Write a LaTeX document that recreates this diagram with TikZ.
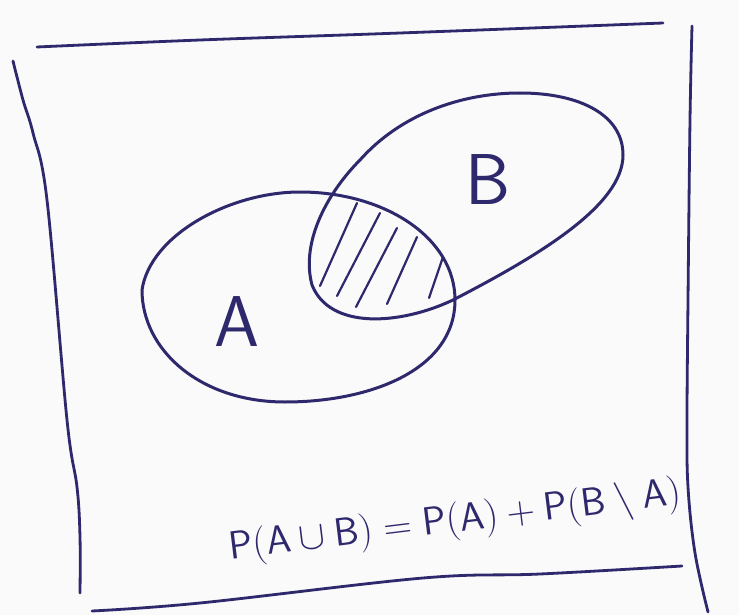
\documentclass[tikz,border=0pt]{standalone}
\usepackage{graphicx}
\usepackage{tikz}
\usetikzlibrary{positioning}
\definecolor{ink}{RGB}{46,40,108}
\definecolor{paper}{RGB}{250,250,250}
\tikzset{
    vennframe/.style={draw=ink, line width=1.4pt, line cap=round},
    vennset/.style={draw=ink, line width=1.5pt},
    vennhatch/.style={draw=ink, line width=1.1pt, line cap=round},
    vennlabel/.style={text=ink, font=\sffamily\fontsize{36}{38}\selectfont, inner sep=0pt},
    vennformula/.style={text=ink, font=\fontsize{20.74}{24}\selectfont, inner sep=0pt, rotate=7}
}

\begin{document}
\begin{tikzpicture}[x=0.5pt, y=-0.5pt]
    \fill[paper] (0,0) rectangle (739,615);
    \useasboundingbox (0,0) rectangle (739,615);

    % frame
    \draw[vennframe] plot[smooth, tension=0.6] coordinates {(37,47) (200,40) (400,33) (663,23)};
    \draw[vennframe] plot[smooth, tension=0.6] coordinates {(13,61) (23,100) (33,133) (47,200) (67,420) (77,487) (80,537) (80,593)};
    \draw[vennframe] plot[smooth, tension=0.6] coordinates {(692,26) (690,120) (688,300) (687,420) (688,487) (695,553) (708,612)};
    \draw[vennframe] plot[smooth, tension=0.6] coordinates {(92,611) (200,603) (423,578) (540,574) (682,566)};

    % sets A and B
    \draw[vennset] (142,290) .. controls (150,235) and (230,192) .. (300,192)
        .. controls (385,192) and (455,238) .. (455,300)
        .. controls (455,370) and (370,402) .. (285,402)
        .. controls (200,402) and (142,350) .. (142,290) -- cycle;
    \draw[vennset] (520,93) .. controls (580,93) and (623,115) .. (623,155)
        .. controls (623,205) and (540,255) .. (453,300)
        .. controls (400,325) and (330,330) .. (312,285)
        .. controls (300,240) and (330,190) .. (360,160)
        .. controls (400,115) and (460,93) .. (520,93) -- cycle;

    % hatching of A cap B
    \foreach \xa/\ya/\xb/\yb in {357/203/320/286, 380/213/337/296, 397/228/356/307, 417/237/387/304, 443/257/429/298}
        \draw[vennhatch] (\xa,\ya) -- (\xb,\yb);

    \node[vennlabel] (labelA) at (237,322) {A};
    \node[vennlabel] (labelB) at (488,180) {B};
    \node[vennformula] (formula) at (455,522) {\scalebox{0.95}{$\mathsf{P}(\mathsf{A}\cup\mathsf{B})=\mathsf{P}(\mathsf{A})+\mathsf{P}(\mathsf{B}\setminus\mathsf{A})$}};
\end{tikzpicture}
\end{document}
